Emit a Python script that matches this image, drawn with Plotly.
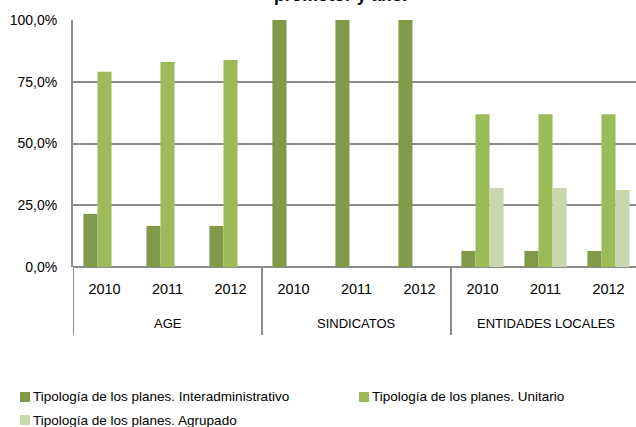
import plotly.graph_objects as go

group_names = ["AGE", "SINDICATOS", "ENTIDADES LOCALES"]
year_labels = ["2010", "2011", "2012"]

interadministrativo = [0.215, 0.166, 0.166, 1.0, 1.0, 1.0, 0.065, 0.065, 0.065]
unitario = [0.79, 0.83, 0.838, 0.0, 0.0, 0.0, 0.618, 0.618, 0.618]
agrupado = [0.0, 0.0, 0.0, 0.0, 0.0, 0.0, 0.32, 0.32, 0.312]

series_names = ["Tipología de los planes. Interadministrativo",
                "Tipología de los planes. Unitario",
                "Tipología de los planes. Agrupado"]
colors = ["#7F9A48", "#9BBB59", "#C8D8AC"]

cats = [f"{g} {y}" for g in group_names for y in year_labels]
ticktext = [y for g in group_names for y in year_labels]

fig = go.Figure()
for name, vals, col in zip(series_names, [interadministrativo, unitario, agrupado], colors):
    fig.add_trace(go.Bar(x=cats, y=vals, name=name, marker_color=col,
                         marker_line_width=0, showlegend=False))

W, H = 636, 427
L, T, B = 73, 20, 267
R = W
cat_px = 63.0
font = "Liberation Sans"
grey = "#8C8C8C"
fig.update_layout(
    width=W, height=H,
    margin=dict(l=L, r=0, t=T, b=H - B, autoexpand=False),
    plot_bgcolor="white", paper_bgcolor="white",
    barmode="group", bargap=0.33, bargroupgap=0,
    separators=",.",
    font=dict(family=font, size=12, color="#000000"),
    showlegend=False,
    xaxis=dict(type="category", categoryorder="array", categoryarray=cats,
               tickvals=cats, ticktext=ticktext, range=[-0.5, -0.5 + (R - L) / cat_px],
               showline=False, showgrid=False, ticks="", tickangle=0,
               tickfont=dict(size=14.5), ticklabelstandoff=11),
    yaxis=dict(range=[0, 1], tickvals=[0, 0.25, 0.5, 0.75, 1.0], tickformat=".1%",
               showgrid=True, gridcolor=grey, gridwidth=2,
               zeroline=True, zerolinecolor=grey, zerolinewidth=2,
               showline=True, linecolor=grey, linewidth=2,
               tickfont=dict(size=14), ticks="", ticklabelstandoff=11),
)

# category dividers below the axis
bottom = (B - 335) / (B - T)
for k in range(len(group_names)):
    xpos = k * len(year_labels) - 0.5
    fig.add_shape(type="line", xref="x", yref="paper", x0=xpos, x1=xpos, y0=0, y1=bottom,
                  line=dict(color=grey, width=2))
for k, g in enumerate(group_names):
    fig.add_annotation(text=g, xref="x", yref="paper", x=k * len(year_labels) + 1,
                       y=(B - 323) / (B - T), yanchor="middle", showarrow=False,
                       font=dict(size=13))

# title (clipped at the top, as in the reference)
fig.add_annotation(text="<b>promotor y año.</b>", xref="paper", yref="paper",
                   x=(340 - L) / (R - L), y=(B - 7) / (B - T), yanchor="bottom",
                   xanchor="center", showarrow=False, font=dict(size=17.5))

# legend
legend_pos = [(20, 397), (359, 397), (20, 420)]
for (lx, ly), name, col in zip(legend_pos, series_names, colors):
    fig.add_shape(type="rect", xref="paper", yref="paper",
                  x0=(lx - L) / (R - L), x1=(lx + 10 - L) / (R - L),
                  y0=(B - ly - 5) / (B - T), y1=(B - ly + 5) / (B - T),
                  fillcolor=col, line_width=0)
    fig.add_annotation(text=name, xref="paper", yref="paper",
                       x=(lx + 11 - L) / (R - L), y=(B - ly) / (B - T),
                       xanchor="left", yanchor="middle", showarrow=False,
                       font=dict(size=13.5))

fig.write_html("out.html", config={"displayModeBar": False},
               post_script="document.body.style.margin='0';")
